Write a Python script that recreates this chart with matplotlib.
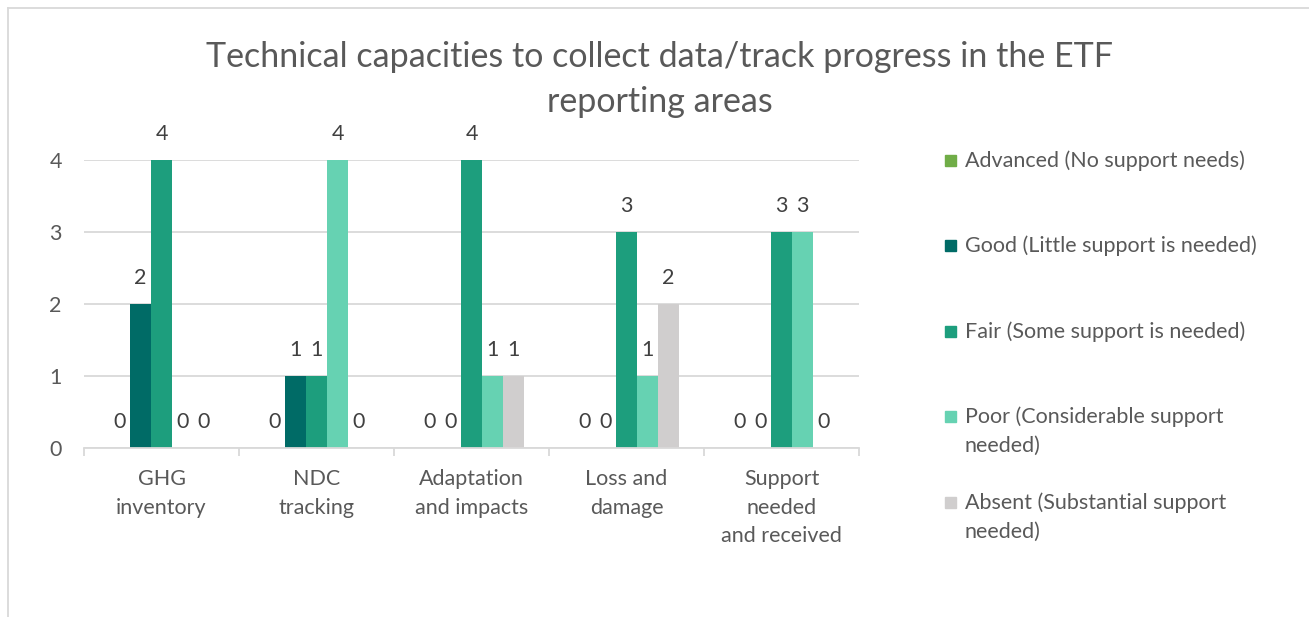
import numpy as np
import matplotlib.pyplot as plt
from matplotlib.patches import Rectangle
from matplotlib.lines import Line2D

plt.rcParams['font.family'] = ['Lato', 'DejaVu Sans']

# categories and series
categories = ['GHG\ninventory', 'NDC\ntracking', 'Adaptation\nand impacts',
              'Loss and\ndamage', 'Support\nneeded\nand received']
series_names = ['Advanced (No support needs)',
                'Good (Little support is needed)',
                'Fair (Some support is needed)',
                'Poor (Considerable support\nneeded)',
                'Absent (Substantial support\nneeded)']
advanced = [0, 0, 0, 0, 0]
good = [2, 1, 0, 0, 0]
fair = [4, 1, 4, 3, 3]
poor = [0, 4, 1, 1, 3]
absent = [0, 0, 1, 2, 0]
colors = ['#70AD47', '#006B66', '#1D9E7D', '#66D2B2', '#D0CECE']

values = [advanced, good, fair, poor, absent]
text_col = '#595959'
fs = 15.5

fig = plt.figure(figsize=(13.09, 6.17), dpi=100)
ax = fig.add_axes([0.0642, 0.274, 0.592, 0.467])

x = np.arange(len(categories))
w = 0.1355
for i, (vals, col) in enumerate(zip(values, colors)):
    pos = x + (i - 2) * w
    ax.bar(pos, vals, width=w, color=col, zorder=3)
    for px, v in zip(pos, vals):
        ax.annotate(str(v), (px, v), xytext=(0, 18.5), textcoords='offset points',
                    ha='center', va='center', fontsize=fs, color='#404040')

ax.set_xlim(-0.5, len(categories) - 0.5)
ax.set_ylim(0, 4)
ax.set_yticks([0, 1, 2, 3, 4])
ax.yaxis.grid(True, color='#D9D9D9', linewidth=1.3, zorder=0)
ax.tick_params(axis='y', length=0, labelsize=fs, labelcolor=text_col, pad=16)
for s in ['top', 'right', 'left']:
    ax.spines[s].set_visible(False)
ax.spines['bottom'].set_color('#D9D9D9')
ax.spines['bottom'].set_linewidth(1.3)
ax.spines['bottom'].set_zorder(4)

# category boundaries as ticks, names as minor labels
ax.set_xticks(np.arange(-0.5, len(categories)), labels=[''] * (len(categories) + 1))
ax.tick_params(axis='x', which='major', length=6, width=1.3, color='#D9D9D9')
ax.set_xticks(x, minor=True)
ax.set_xticklabels(categories, minor=True, fontsize=fs, color=text_col,
                   linespacing=1.55)
ax.tick_params(axis='x', which='minor', length=0, pad=15)

fig.suptitle('Technical capacities to collect data/track progress in the ETF\nreporting areas',
             x=0.504, y=0.934, fontsize=24.5, color=text_col, linespacing=1.5)

# legend drawn beside the plot
leg_y = [160, 245, 331, 416, 502]
H = 617.0
for name, col, yy in zip(series_names, colors, leg_y):
    fig.add_artist(Rectangle((945 / 1309, 1 - (yy + 5.5) / H), 11 / 1309, 11 / H,
                             transform=fig.transFigure, color=col))
    fig.text(965 / 1309, 1 - (yy - 10) / H, name, fontsize=fs, color=text_col,
             va='top', ha='left', linespacing=1.55)

# outer frame (partly outside the crop)
fig.add_artist(Line2D([8 / 1309, 8 / 1309], [0, 1 - 8 / H], transform=fig.transFigure,
                      color='#D9D9D9', linewidth=1.3))
fig.add_artist(Line2D([8 / 1309, 1], [1 - 8 / H, 1 - 8 / H], transform=fig.transFigure,
                      color='#D9D9D9', linewidth=1.3))

fig.savefig('out.png', dpi=100)
